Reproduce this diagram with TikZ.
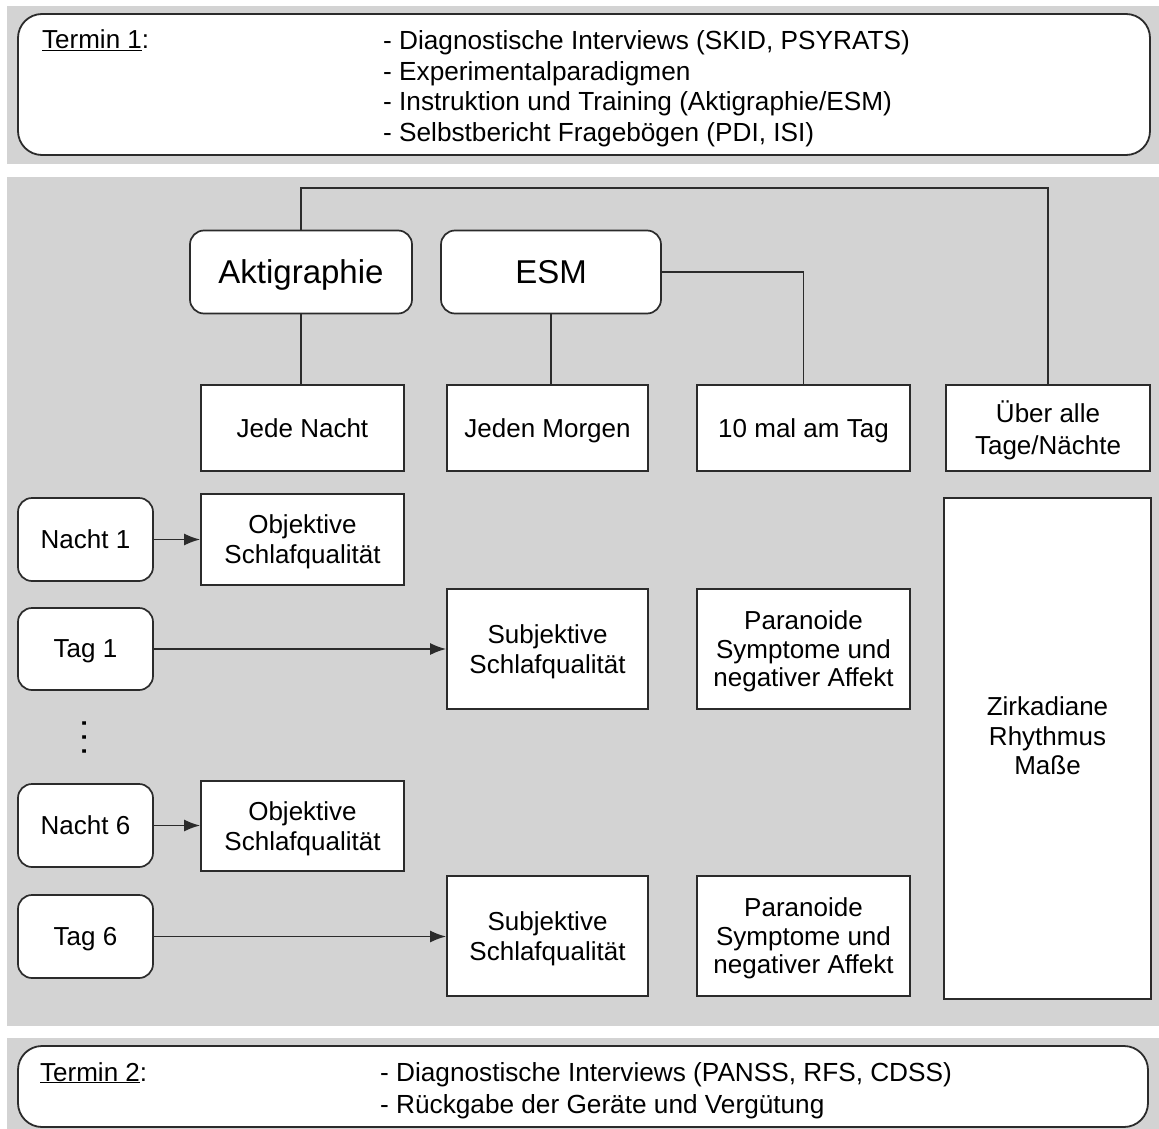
\documentclass[tikz,border=0pt]{standalone}
\usepackage{fontspec}
\setmainfont{Liberation Sans}
\usetikzlibrary{arrows.meta}
\definecolor{bandgray}{HTML}{D3D3D3}
\definecolor{edgegray}{HTML}{2B2B2B}
\begin{document}
\begin{tikzpicture}[x=1pt,y=-1pt,
  txt/.style={font=\fontsize{26}{30}\selectfont,inner sep=0pt},
  band/.style={fill=bandgray,draw=none},
  panel/.style={draw=edgegray,line width=1.8pt,fill=white,rounded corners=24pt},
  plain/.style={draw=edgegray,line width=1.7pt,fill=white,align=center,inner sep=0pt,
    text depth=0pt,font=\fontsize{26}{30}\selectfont},
  soft/.style={plain,rounded corners=14pt},
  link/.style={draw=edgegray,line width=1.7pt},
  flow/.style={link,-{Latex[length=16pt,width=12pt]}},
]
\useasboundingbox (0,0) rectangle (1159,1129);
\fill[white] (0,0) rectangle (1159,1129);

% grey background bands
\fill[band] (7,6) rectangle (1159,164);
\fill[band] (7,177) rectangle (1159,1026);
\fill[band] (7,1038) rectangle (1159,1129);

% first appointment
\draw[panel] (18,14) rectangle (1150,155);
\node[txt,anchor=base west] (t1head) at (42,49) {\underline{Termin 1}:};
\node[txt,anchor=west,align=left,font=\fontsize{26.2}{30.5}\selectfont] (t1list) at (383,88.5)
  {- Diagnostische Interviews (SKID, PSYRATS)\\
   - Experimentalparadigmen\\
   - Instruktion und Training (Aktigraphie/ESM)\\
   - Selbstbericht Fragebögen (PDI, ISI)};

% second appointment
\draw[panel] (18,1046) rectangle (1148,1127);
\node[txt,anchor=base west] (t2head) at (40,1081) {\underline{Termin 2}:};
\node[txt,anchor=west,align=left,font=\fontsize{26.2}{32}\selectfont] (t2list) at (380,1091)
  {- Diagnostische Interviews (PANSS, RFS, CDSS)\\
   - Rückgabe der Geräte und Vergütung};

% methods
\node[soft,minimum width=222pt,minimum height=83pt,font=\fontsize{33}{38}\selectfont] (akti) at (301,272) {Aktigraphie};
\node[soft,minimum width=220pt,minimum height=83pt,font=\fontsize{33}{38}\selectfont] (esm) at (551,272) {ESM};

% sampling frequency
\node[plain,minimum width=203pt,minimum height=86pt] (nightly) at (302.5,428) {Jede Nacht};
\node[plain,minimum width=201pt,minimum height=86pt] (morning) at (547.5,428) {Jeden Morgen};
\node[plain,minimum width=213pt,minimum height=86pt] (tenday) at (803.5,428) {10 mal am Tag};
\node[plain,minimum width=204pt,minimum height=86pt,font=\fontsize{26}{32}\selectfont] (overall) at (1048,428) {Über alle\\Tage/Nächte};

% days and nights
\node[soft,minimum width=135pt,minimum height=83pt] (n1) at (85.5,539.5) {Nacht 1};
\node[soft,minimum width=135pt,minimum height=82pt] (d1) at (85.5,649) {Tag 1};
\node[txt,rotate=90,font=\fontsize{36}{36}\selectfont] (dots) at (85,737) {.\kern4pt.\kern4pt.};
\node[soft,minimum width=135pt,minimum height=83pt] (n6) at (85.5,825.5) {Nacht 6};
\node[soft,minimum width=135pt,minimum height=83pt] (d6) at (85.5,936.5) {Tag 6};

% outcomes
\node[plain,minimum width=203pt,minimum height=91pt] (obj1) at (302.5,539.5) {Objektive\\Schlafqualität};
\node[plain,minimum width=201pt,minimum height=120pt] (subj1) at (547.5,649) {Subjektive\\Schlafqualität};
\node[plain,minimum width=213pt,minimum height=120pt,font=\fontsize{26}{28.5}\selectfont] (para1) at (803.5,649) {Paranoide\\Symptome und\\negativer Affekt};
\node[plain,minimum width=203pt,minimum height=90pt] (obj6) at (302.5,826) {Objektive\\Schlafqualität};
\node[plain,minimum width=201pt,minimum height=120pt] (subj6) at (547.5,936) {Subjektive\\Schlafqualität};
\node[plain,minimum width=213pt,minimum height=120pt,font=\fontsize{26}{28.5}\selectfont] (para6) at (803.5,936) {Paranoide\\Symptome und\\negativer Affekt};
\node[plain,minimum width=207pt,minimum height=501pt] (circ) at (1047.5,748.5) {};
\node[txt,align=center,font=\fontsize{26}{29.5}\selectfont] (circlabel) at (1047.5,736) {Zirkadiane\\Rhythmus\\Maße};

% connectors
\coordinate (rail) at (0,188);
\draw[link] (akti.north) -- (akti.north |- rail) -| (overall.north);
\draw[link] (esm.east) -| (tenday.north);
\draw[link] (akti.south) -- (akti.south |- nightly.north);
\draw[link] (esm.south) -- (esm.south |- morning.north);

\draw[flow] (n1.east) -- (n1.east -| obj1.west);
\draw[flow] (d1.east) -- (d1.east -| subj1.west);
\draw[flow] (n6.east) -- (n6.east -| obj6.west);
\draw[flow] (d6.east) -- (d6.east -| subj6.west);
\end{tikzpicture}
\end{document}
